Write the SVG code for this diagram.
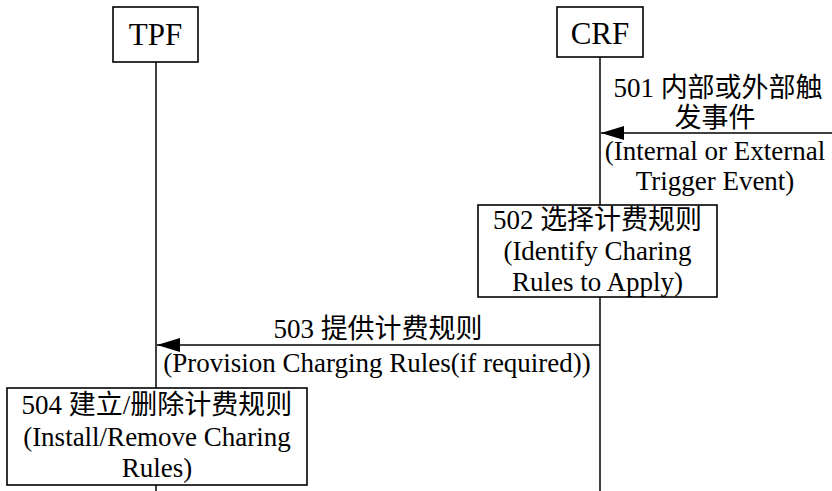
<svg xmlns="http://www.w3.org/2000/svg" width="832" height="491" viewBox="0 0 832 491">
<style>
text{font-family:"Liberation Serif","Noto Sans CJK SC",serif;fill:#000;text-anchor:middle}
.lbl{font-size:27px}
.hdr{font-size:31px}
.box{fill:#fff;stroke:#000;stroke-width:1.6}
.life{stroke:#000;stroke-width:1.5;fill:none}
.msg{stroke:#000;stroke-width:1.6;fill:none;marker-end:url(#ah)}
</style>
<defs>
<marker id="ah" markerUnits="userSpaceOnUse" markerWidth="24" markerHeight="16" refX="23" refY="8" orient="auto">
<path d="M0,1 L23,8 L0,15 Z" fill="#000"/>
</marker>
</defs>
<g id="lifelines">
<line class="life" x1="156" y1="62" x2="156" y2="491"/>
<line class="life" x1="600" y1="57" x2="600" y2="491"/>
</g>
<g id="TPF">
<rect class="box" x="113" y="7" width="85" height="55"/>
<text class="hdr" x="155.5" y="45">TPF</text>
</g>
<g id="CRF">
<rect class="box" x="557" y="7" width="86" height="50"/>
<text class="hdr" x="600" y="44">CRF</text>
</g>
<g id="connectors">
<line class="msg" x1="832" y1="133" x2="601" y2="133"/>
<line class="msg" x1="600" y1="345" x2="157" y2="345"/>
</g>
<g id="msg501">
<text class="lbl" x="718" y="97">501 内部或外部触</text>
<text class="lbl" x="715" y="127">发事件</text>
<text class="lbl" x="715" y="160">(Internal or External</text>
<text class="lbl" x="715" y="190">Trigger Event)</text>
</g>
<g id="step502">
<rect class="box" x="478" y="205" width="239" height="92"/>
<text class="lbl" x="597.5" y="229">502 选择计费规则</text>
<text class="lbl" x="597.5" y="260">(Identify Charing</text>
<text class="lbl" x="597.5" y="291">Rules to Apply)</text>
</g>
<g id="msg503">
<text class="lbl" x="378" y="338">503 提供计费规则</text>
<text class="lbl" x="377" y="372">(Provision Charging Rules(if required))</text>
</g>
<g id="step504">
<rect class="box" x="7" y="388" width="300" height="97"/>
<text class="lbl" x="157" y="414">504 建立/删除计费规则</text>
<text class="lbl" x="157" y="446">(Install/Remove Charing</text>
<text class="lbl" x="157" y="477">Rules)</text>
</g>
</svg>
